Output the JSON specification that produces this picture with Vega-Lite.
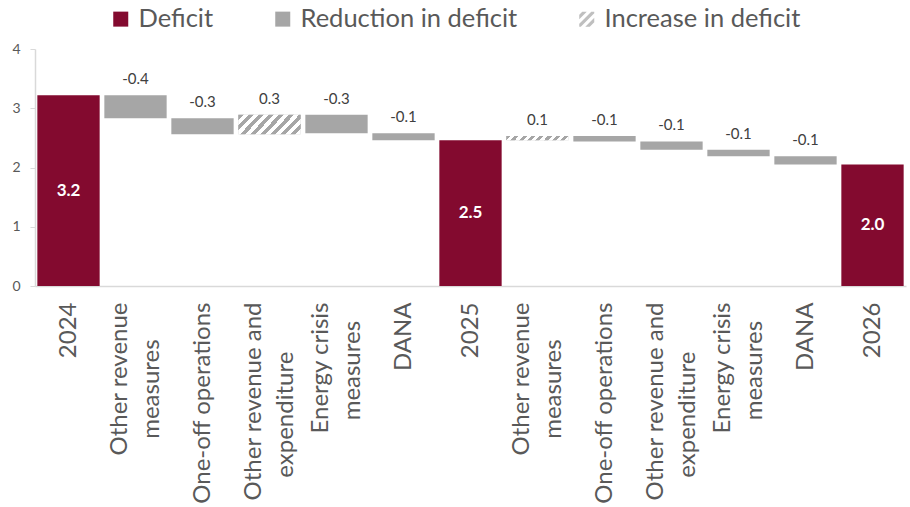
{
  "$schema": "https://vega.github.io/schema/vega-lite/v6.json",
  "width": 871,
  "height": 237,
  "autosize": {"type": "none"},
  "padding": {"left": 35, "top": 49, "right": 4, "bottom": 221},
  "background": "white",
  "config": {
    "view": {"stroke": null},
    "font": "Lato",
    "axis": {"grid": false, "title": null, "domainColor": "#D9D9D9", "domainWidth": 1.5, "labelColor": "#595959", "labelFont": "Lato"}
  },
  "data": {
    "values": [
      {"step": "2024", "kind": "Deficit", "low": 0, "high": 3.22, "text": "3.2"},
      {"step": "Other revenue|measures\u00a0\u00a0\u00a0\u00a0\u00a0\u00a0\u200b", "kind": "Reduction in deficit", "low": 2.83, "high": 3.22, "text": "-0.4"},
      {"step": "One-off operations", "kind": "Reduction in deficit", "low": 2.56, "high": 2.83, "text": "-0.3"},
      {"step": "Other revenue and|expenditure\u00a0\u00a0\u00a0\u00a0\u00a0\u00a0\u00a0\u00a0\u200b", "kind": "Increase in deficit", "low": 2.56, "high": 2.89, "text": "0.3"},
      {"step": "Energy crisis|measures\u00a0\u00a0\u00a0\u200b", "kind": "Reduction in deficit", "low": 2.58, "high": 2.89, "text": "-0.3"},
      {"step": "DANA", "kind": "Reduction in deficit", "low": 2.46, "high": 2.58, "text": "-0.1"},
      {"step": "2025", "kind": "Deficit", "low": 0, "high": 2.46, "text": "2.5"},
      {"step": "Other revenue|measures\u00a0\u00a0\u00a0\u00a0\u00a0\u00a0\u200b\u200b", "kind": "Increase in deficit", "low": 2.46, "high": 2.53, "text": "0.1"},
      {"step": "One-off operations\u200b", "kind": "Reduction in deficit", "low": 2.44, "high": 2.53, "text": "-0.1"},
      {"step": "Other revenue and|expenditure\u00a0\u00a0\u00a0\u00a0\u00a0\u00a0\u00a0\u00a0\u200b\u200b", "kind": "Reduction in deficit", "low": 2.30, "high": 2.44, "text": "-0.1"},
      {"step": "Energy crisis|measures\u00a0\u00a0\u00a0\u200b\u200b", "kind": "Reduction in deficit", "low": 2.19, "high": 2.30, "text": "-0.1"},
      {"step": "DANA\u200b", "kind": "Reduction in deficit", "low": 2.05, "high": 2.19, "text": "-0.1"},
      {"step": "2026", "kind": "Deficit", "low": 0, "high": 2.05, "text": "2.0"}
    ]
  },
  "encoding": {
    "x": {
      "field": "step",
      "type": "nominal",
      "sort": null,
      "scale": {"paddingInner": 0.07, "paddingOuter": 0.035},
      "axis": {
        "labelAngle": -90,
        "labelAlign": "right",
        "labelBaseline": "middle",
        "labelFontSize": 24,
        "labelLineHeight": 32,
        "labelPadding": 16,
        "labelOffset": {"condition": {"test": "indexof(datum.label, '|') >= 0", "value": -16}, "value": 0},
        "ticks": false,
        "labelExpr": "split(datum.label, '|')",
        "labelLimit": 300
      }
    }
  },
  "layer": [
    {
      "mark": {"type": "bar"},
      "encoding": {
        "y": {
          "field": "low",
          "type": "quantitative",
          "scale": {"domain": [0, 4], "nice": false},
          "axis": {"values": [0, 1, 2, 3, 4], "format": "d", "tickColor": "#D9D9D9", "tickSize": 5, "labelFontSize": 14, "labelPadding": 10}
        },
        "y2": {"field": "high"},
        "color": {
          "field": "kind",
          "type": "nominal",
          "scale": {"domain": ["Deficit", "Reduction in deficit", "Increase in deficit"], "range": ["#830A2F", "#A6A6A6", "#BFBFBF"]},
          "legend": {
            "orient": "none",
            "legendX": 73,
            "legendY": -43,
            "direction": "horizontal",
            "title": null,
            "labelFontSize": 25.5,
            "labelColor": "#595959",
            "symbolType": "square",
            "symbolSize": 225,
            "labelOffset": 5,
            "columnPadding": 56,
            "padding": 0,
            "labelLimit": 400,
            "encode": {
              "symbols": {
                "update": {
                  "shape": {"signal": "datum.label === 'Increase in deficit' ? 'M-1,-0.6L-0.6,-1L0,-1L-1,0Z M-1,0.6L0.6,-1L1,-1L1,-0.8L-0.8,1L-1,1Z M1,-0.2L1,0.4L0.4,1L-0.2,1Z' : 'square'"}
                }
              }
            }
          }
        }
      }
    },
    {
      "transform": [{"filter": "datum.kind === 'Increase in deficit' && datum.high - datum.low > 0.2"}],
      "mark": {
        "type": "bar",
        "fill": {
          "gradient": "linear", "x1": 0, "y1": 0, "x2": 1.193, "y2": 0.358,
          "stops": [
            {"offset": 0, "color": "#A6A6A6"}, {"offset": 0.0625, "color": "#A6A6A6"}, {"offset": 0.0625, "color": "#FFFFFF"}, {"offset": 0.125, "color": "#FFFFFF"},
            {"offset": 0.125, "color": "#A6A6A6"}, {"offset": 0.1875, "color": "#A6A6A6"}, {"offset": 0.1875, "color": "#FFFFFF"}, {"offset": 0.25, "color": "#FFFFFF"},
            {"offset": 0.25, "color": "#A6A6A6"}, {"offset": 0.3125, "color": "#A6A6A6"}, {"offset": 0.3125, "color": "#FFFFFF"}, {"offset": 0.375, "color": "#FFFFFF"},
            {"offset": 0.375, "color": "#A6A6A6"}, {"offset": 0.4375, "color": "#A6A6A6"}, {"offset": 0.4375, "color": "#FFFFFF"}, {"offset": 0.5, "color": "#FFFFFF"},
            {"offset": 0.5, "color": "#A6A6A6"}, {"offset": 0.5625, "color": "#A6A6A6"}, {"offset": 0.5625, "color": "#FFFFFF"}, {"offset": 0.625, "color": "#FFFFFF"},
            {"offset": 0.625, "color": "#A6A6A6"}, {"offset": 0.6875, "color": "#A6A6A6"}, {"offset": 0.6875, "color": "#FFFFFF"}, {"offset": 0.75, "color": "#FFFFFF"},
            {"offset": 0.75, "color": "#A6A6A6"}, {"offset": 0.8125, "color": "#A6A6A6"}, {"offset": 0.8125, "color": "#FFFFFF"}, {"offset": 0.875, "color": "#FFFFFF"},
            {"offset": 0.875, "color": "#A6A6A6"}, {"offset": 0.9375, "color": "#A6A6A6"}, {"offset": 0.9375, "color": "#FFFFFF"}, {"offset": 1, "color": "#FFFFFF"}
          ]
        }
      },
      "encoding": {
        "y": {"field": "low", "type": "quantitative"},
        "y2": {"field": "high"}
      }
    },
    {
      "transform": [{"filter": "datum.kind === 'Increase in deficit' && datum.high - datum.low < 0.2"}],
      "mark": {
        "type": "bar",
        "fill": {
          "gradient": "linear", "x1": 0, "y1": 0, "x2": 1.059, "y2": 0.067,
          "stops": [
            {"offset": 0, "color": "#A6A6A6"}, {"offset": 0.0625, "color": "#A6A6A6"}, {"offset": 0.0625, "color": "#FFFFFF"}, {"offset": 0.125, "color": "#FFFFFF"},
            {"offset": 0.125, "color": "#A6A6A6"}, {"offset": 0.1875, "color": "#A6A6A6"}, {"offset": 0.1875, "color": "#FFFFFF"}, {"offset": 0.25, "color": "#FFFFFF"},
            {"offset": 0.25, "color": "#A6A6A6"}, {"offset": 0.3125, "color": "#A6A6A6"}, {"offset": 0.3125, "color": "#FFFFFF"}, {"offset": 0.375, "color": "#FFFFFF"},
            {"offset": 0.375, "color": "#A6A6A6"}, {"offset": 0.4375, "color": "#A6A6A6"}, {"offset": 0.4375, "color": "#FFFFFF"}, {"offset": 0.5, "color": "#FFFFFF"},
            {"offset": 0.5, "color": "#A6A6A6"}, {"offset": 0.5625, "color": "#A6A6A6"}, {"offset": 0.5625, "color": "#FFFFFF"}, {"offset": 0.625, "color": "#FFFFFF"},
            {"offset": 0.625, "color": "#A6A6A6"}, {"offset": 0.6875, "color": "#A6A6A6"}, {"offset": 0.6875, "color": "#FFFFFF"}, {"offset": 0.75, "color": "#FFFFFF"},
            {"offset": 0.75, "color": "#A6A6A6"}, {"offset": 0.8125, "color": "#A6A6A6"}, {"offset": 0.8125, "color": "#FFFFFF"}, {"offset": 0.875, "color": "#FFFFFF"},
            {"offset": 0.875, "color": "#A6A6A6"}, {"offset": 0.9375, "color": "#A6A6A6"}, {"offset": 0.9375, "color": "#FFFFFF"}, {"offset": 1, "color": "#FFFFFF"}
          ]
        }
      },
      "encoding": {
        "y": {"field": "low", "type": "quantitative"},
        "y2": {"field": "high"}
      }
    },
    {
      "transform": [{"filter": "datum.kind !== 'Deficit'"}],
      "mark": {"type": "text", "baseline": "middle", "dy": -16, "fontSize": 15, "color": "#404040"},
      "encoding": {
        "y": {"field": "high", "type": "quantitative"},
        "text": {"field": "text"}
      }
    },
    {
      "transform": [
        {"filter": "datum.kind === 'Deficit'"},
        {"calculate": "(datum.low + datum.high) / 2", "as": "labelAt"}
      ],
      "mark": {"type": "text", "baseline": "middle", "fontSize": 17, "fontWeight": "bold", "color": "#FFFFFF"},
      "encoding": {
        "y": {"field": "labelAt", "type": "quantitative"},
        "text": {"field": "text"}
      }
    }
  ]
}
